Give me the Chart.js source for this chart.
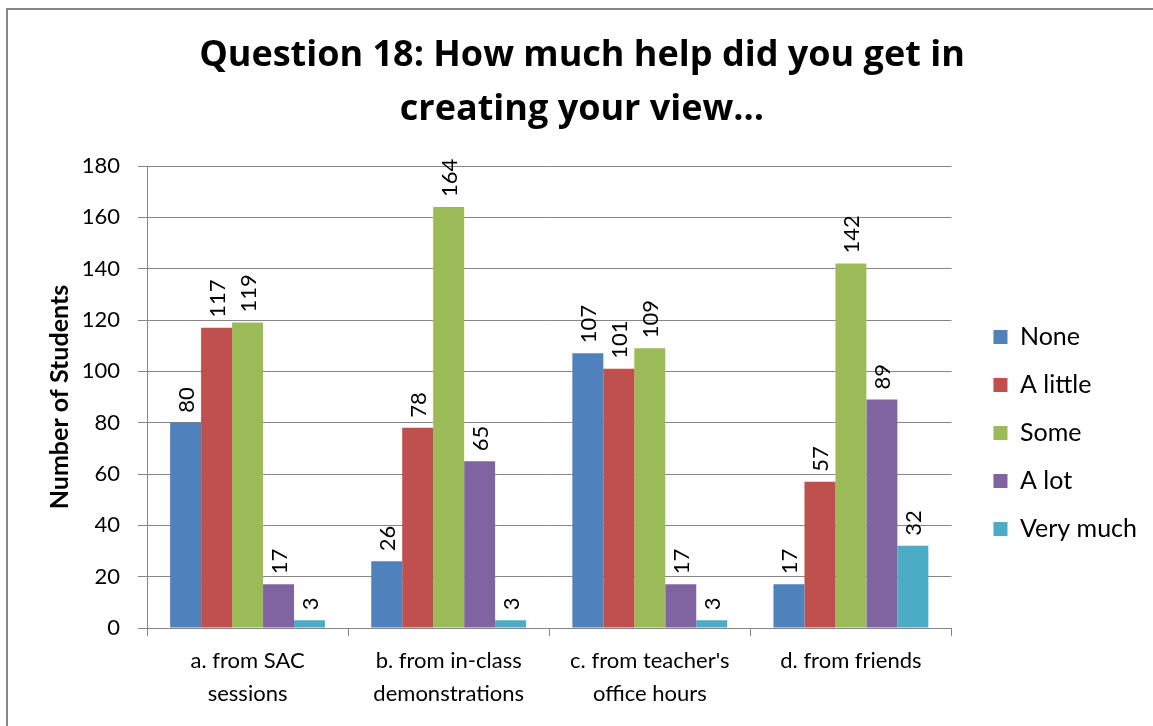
<!DOCTYPE html>
<html>
<head>
<meta charset="utf-8">
<script src="https://cdn.jsdelivr.net/npm/chart.js@4.4.0/dist/chart.umd.min.js"></script>
<style>
body { margin: 0; background: #fff; overflow: hidden; }
</style>
</head>
<body>
<canvas id="myChart" width="1153" height="726"></canvas>
<script>
let categories = [["a. from SAC", "sessions"], ["b. from in-class", "demonstrations"], ["c. from teacher's", "office hours"], ["d. from friends"]];
let seriesNames = ["None", "A little", "Some", "A lot", "Very much"];
let none = [80, 26, 107, 17];
let aLittle = [117, 78, 101, 57];
let some = [119, 164, 109, 142];
let aLot = [17, 65, 17, 89];
let veryMuch = [3, 3, 3, 32];
let yMin = 0, yMax = 180, yStep = 20;
let colors = ['#4F81BD', '#C0504D', '#9BBB59', '#8064A2', '#4BACC6'];

let seriesValues = [none, aLittle, some, aLot, veryMuch];
let grey = '#868686';
let font = 'Lato';

// outer frame of the chart (only top and left edges show)
const frame = {
    id: 'frame',
    beforeDraw(chart) {
        let ctx = chart.ctx;
        ctx.save();
        ctx.fillStyle = '#fff';
        ctx.fillRect(0, 0, chart.width, chart.height);
        ctx.strokeStyle = grey;
        ctx.lineWidth = 2;
        ctx.beginPath();
        ctx.moveTo(7, chart.height);
        ctx.lineTo(7, 9);
        ctx.lineTo(chart.width, 9);
        ctx.stroke();
        ctx.restore();
    }
};

// vertical value labels above each bar
const barLabels = {
    id: 'barLabels',
    afterDatasetsDraw(chart) {
        let ctx = chart.ctx;
        ctx.save();
        ctx.font = '22px ' + font;
        ctx.fillStyle = '#000';
        chart.data.datasets.forEach((ds, i) => {
            chart.getDatasetMeta(i).data.forEach((bar, j) => {
                ctx.save();
                ctx.translate(bar.x, bar.y - 10);
                ctx.rotate(-Math.PI / 2);
                ctx.textAlign = 'left';
                ctx.textBaseline = 'middle';
                ctx.fillText(ds.data[j], 0, 1);
                ctx.restore();
            });
        });
        ctx.restore();
    }
};

let ctx = document.getElementById('myChart').getContext('2d');
let myChart = new Chart(ctx, {
    type: 'bar',
    data: {
        labels: categories,
        datasets: seriesNames.map((name, i) => ({
            label: name,
            data: seriesValues[i],
            backgroundColor: colors[i],
            borderWidth: 0,
            categoryPercentage: 0.77,
            barPercentage: 1
        }))
    },
    options: {
        responsive: false,
        animation: false,
        layout: { padding: { top: 10, right: 6, bottom: 8, left: 45 } },
        plugins: {
            title: {
                display: true,
                // trailing spaces nudge the centred title a bit to the left
                text: ['Question 18: How much help did you get in   ', 'creating your view\u2026   '],
                color: '#000',
                font: { family: 'Open Sans', size: 36, weight: 'bold', lineHeight: 1.5 },
                padding: { top: 19, bottom: 29 }
            },
            legend: {
                position: 'right',
                title: { display: true, text: '', font: { size: 10, lineHeight: 1 }, padding: { top: 128, bottom: 0 } },
                labels: {
                    boxWidth: 14,
                    boxHeight: 14,
                    padding: 23,
                    color: '#000',
                    font: { family: font, size: 25 }
                }
            },
            tooltip: { enabled: false }
        },
        scales: {
            x: {
                grid: { drawOnChartArea: false, drawTicks: true, tickLength: 8, color: grey, offset: true },
                border: { color: grey, width: 1 },
                ticks: { color: '#000', padding: 8, font: { family: font, size: 22, lineHeight: 1.5 }, maxRotation: 0 }
            },
            y: {
                min: yMin,
                max: yMax,
                grid: { color: grey, tickLength: 9 },
                border: { color: grey, width: 1 },
                ticks: { stepSize: yStep, color: '#000', padding: 18, font: { family: font, size: 22 } },
                title: {
                    display: true,
                    text: 'Number of Students',
                    color: '#000',
                    font: { family: font, size: 25, weight: 'bold' },
                    padding: { top: 0, bottom: 0 }
                },
                afterFit: s => { s.width = 102; }
            },
            gap: {
                position: 'right',
                display: true,
                grid: { display: false },
                border: { display: false },
                ticks: { display: false },
                afterFit: s => { s.width = 19; }
            }
        }
    },
    plugins: [frame, barLabels]
});
</script>
</body>
</html>
